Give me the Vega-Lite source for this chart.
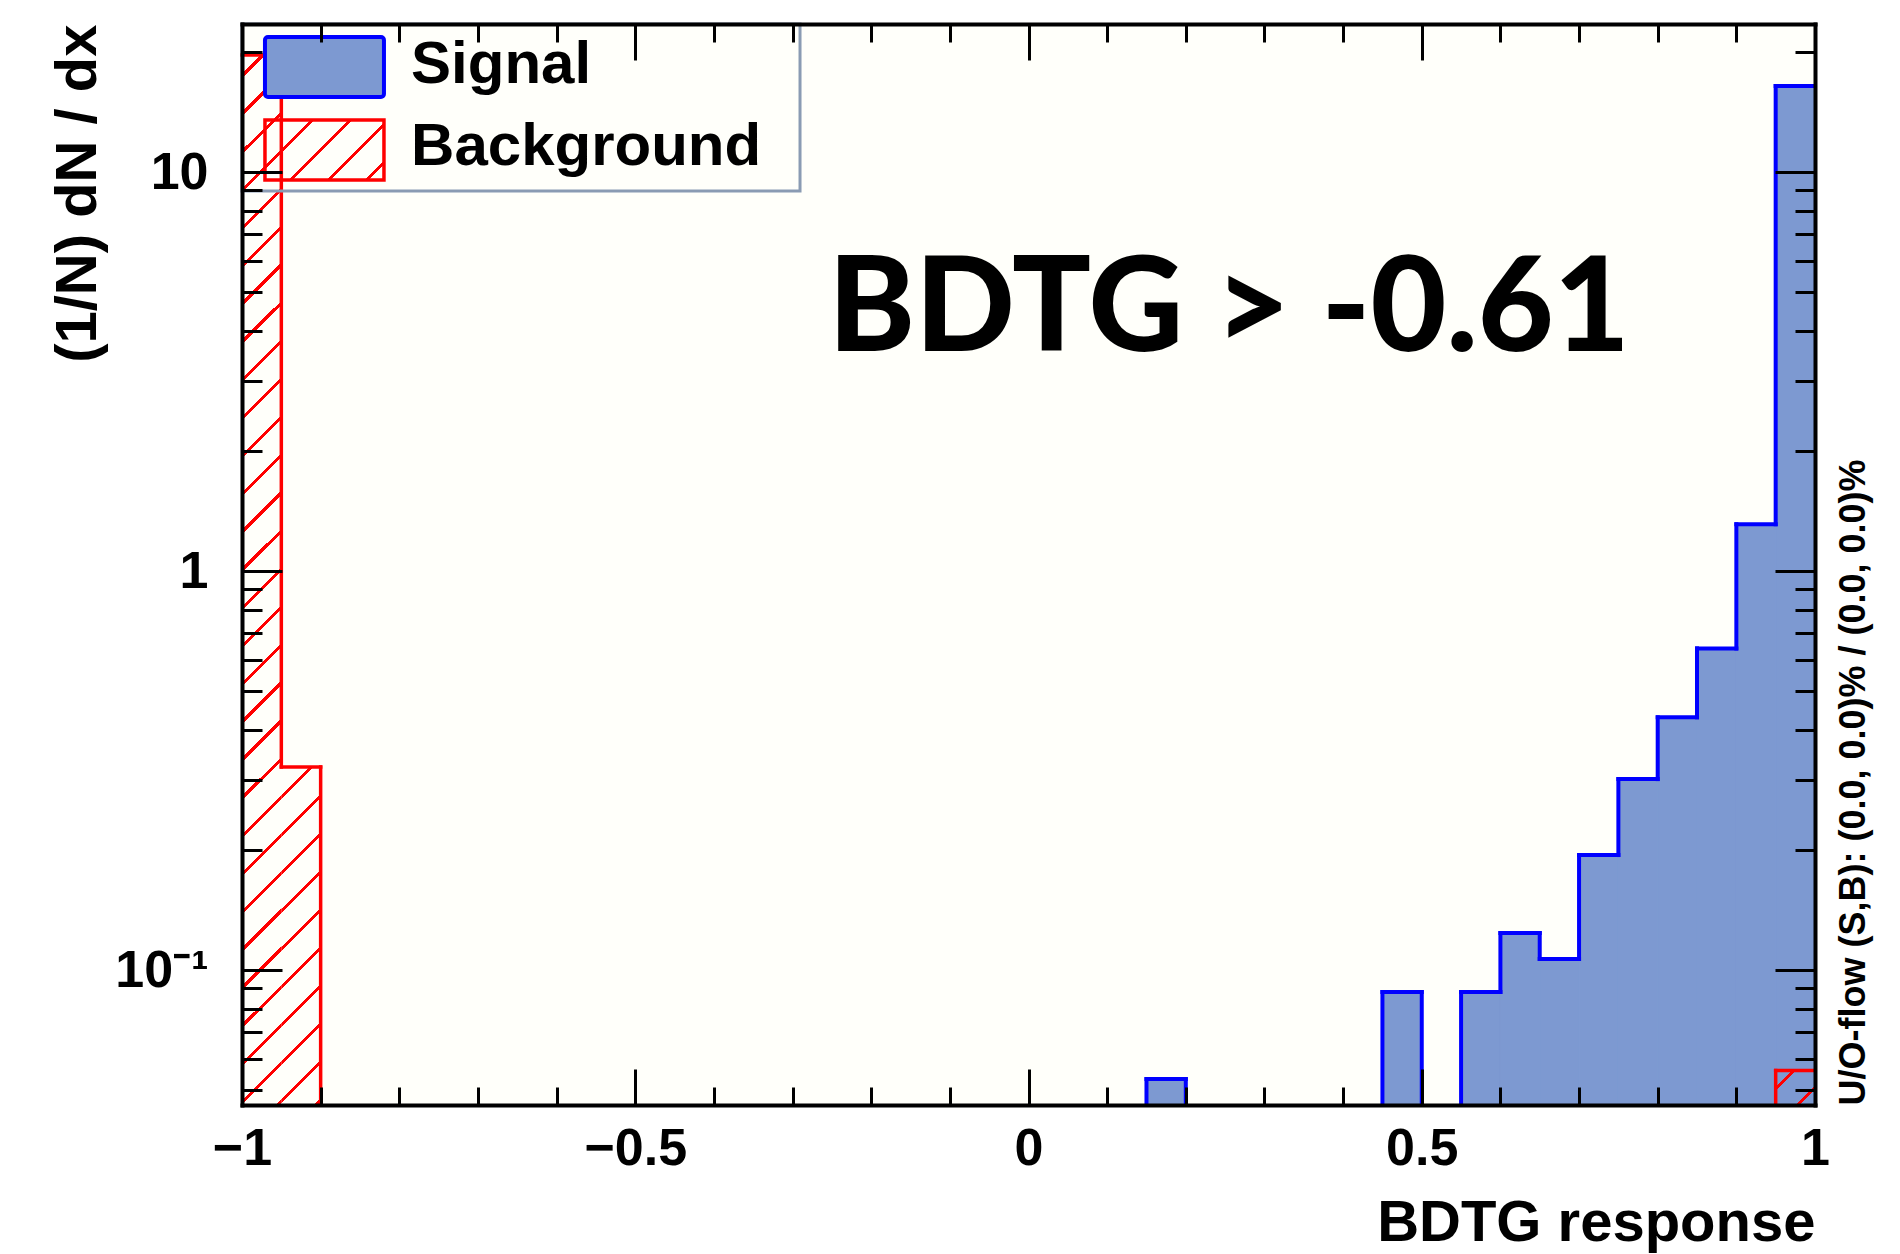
{
"$schema":"https://vega.github.io/schema/vega-lite/v6.json",
"width":1573,"height":1081,
"autosize":{"type":"none"},
"padding":{"left":242,"top":24,"right":85,"bottom":149},
"background":"#ffffff",
"config":{"view":{"stroke":null,"fill":"#fffffa"},"axis":{"grid":false},"scale":{"continuousPadding":0}},
"datasets":{"bins":[
{"lo":-1,"hi":-0.95,"sig":0,"bkg":19.65},
{"lo":-0.95,"hi":-0.9,"sig":0,"bkg":0.323},
{"lo":-0.9,"hi":-0.85,"sig":0,"bkg":0},
{"lo":-0.85,"hi":-0.8,"sig":0,"bkg":0},
{"lo":-0.8,"hi":-0.75,"sig":0,"bkg":0},
{"lo":-0.75,"hi":-0.7,"sig":0,"bkg":0},
{"lo":-0.7,"hi":-0.65,"sig":0,"bkg":0},
{"lo":-0.65,"hi":-0.6,"sig":0,"bkg":0},
{"lo":-0.6,"hi":-0.55,"sig":0,"bkg":0},
{"lo":-0.55,"hi":-0.5,"sig":0,"bkg":0},
{"lo":-0.5,"hi":-0.45,"sig":0,"bkg":0},
{"lo":-0.45,"hi":-0.4,"sig":0,"bkg":0},
{"lo":-0.4,"hi":-0.35,"sig":0,"bkg":0},
{"lo":-0.35,"hi":-0.3,"sig":0,"bkg":0},
{"lo":-0.3,"hi":-0.25,"sig":0,"bkg":0},
{"lo":-0.25,"hi":-0.2,"sig":0,"bkg":0},
{"lo":-0.2,"hi":-0.15,"sig":0,"bkg":0},
{"lo":-0.15,"hi":-0.1,"sig":0,"bkg":0},
{"lo":-0.1,"hi":-0.05,"sig":0,"bkg":0},
{"lo":-0.05,"hi":0,"sig":0,"bkg":0},
{"lo":0,"hi":0.05,"sig":0,"bkg":0},
{"lo":0.05,"hi":0.1,"sig":0,"bkg":0},
{"lo":0.1,"hi":0.15,"sig":0,"bkg":0},
{"lo":0.15,"hi":0.2,"sig":0.0533,"bkg":0},
{"lo":0.2,"hi":0.25,"sig":0,"bkg":0},
{"lo":0.25,"hi":0.3,"sig":0,"bkg":0},
{"lo":0.3,"hi":0.35,"sig":0,"bkg":0},
{"lo":0.35,"hi":0.4,"sig":0,"bkg":0},
{"lo":0.4,"hi":0.45,"sig":0,"bkg":0},
{"lo":0.45,"hi":0.5,"sig":0.0881,"bkg":0},
{"lo":0.5,"hi":0.55,"sig":0,"bkg":0},
{"lo":0.55,"hi":0.6,"sig":0.0881,"bkg":0},
{"lo":0.6,"hi":0.65,"sig":0.1238,"bkg":0},
{"lo":0.65,"hi":0.7,"sig":0.1066,"bkg":0},
{"lo":0.7,"hi":0.75,"sig":0.1942,"bkg":0},
{"lo":0.75,"hi":0.8,"sig":0.301,"bkg":0},
{"lo":0.8,"hi":0.85,"sig":0.43,"bkg":0},
{"lo":0.85,"hi":0.9,"sig":0.64,"bkg":0},
{"lo":0.9,"hi":0.95,"sig":1.31,"bkg":0},
{"lo":0.95,"hi":1,"sig":16.43,"bkg":0.056}
]},
"data":{"name":"bins"},
"resolve":{"axis":{"x":"independent","y":"independent"}},
"layer":[
{
"transform":[{"filter":"datum.sig > 0"}],
"mark":{"type":"bar","orient":"vertical","fill":"#7d99d1","stroke":"#7d99d1","strokeWidth":1},
"encoding":{
"x":{"field":"lo","type":"quantitative","scale":{"type":"linear","domain":[-1,1],"nice":false,"zero":false,"padding":0},
"axis":{"orient":"bottom","grid":false,"zindex":1,
"values":[-1,-0.9,-0.8,-0.7,-0.6,-0.5,-0.4,-0.3,-0.2,-0.1,0,0.1,0.2,0.3,0.4,0.5,0.6,0.7,0.8,0.9,1],
"domain":true,"domainColor":"#000000","domainWidth":4,"domainCap":"square",
"ticks":true,"tickColor":"#000000","tickWidth":3,
"tickSize":{"condition":{"test":"indexof([-1,-0.5,0,0.5,1], datum.value) >= 0","value":-36},"value":-18},
"labelExpr":"indexof([-1,-0.5,0,0.5,1], datum.value) >= 0 ? format(datum.value, '~g') : ''",
"labelFont":"Liberation Sans","labelFontWeight":"bold","labelFontSize":52,"labelColor":"#000000",
"labelPadding":54,"labelFlush":false,"labelOverlap":false,"labelBound":false,
"title":"BDTG response","titleFont":"Liberation Sans","titleFontWeight":"bold","titleFontSize":58,"titleColor":"#000000",
"titleAlign":"right","titleAnchor":"end","titleX":1573,"titleY":135,"titleBaseline":"alphabetic"}},
"x2":{"field":"hi"},
"y":{"field":"sig","type":"quantitative","stack":null,"scale":{"type":"log","domain":[0.0459,23.5],"nice":false,"clamp":true},
"axis":{"orient":"left","grid":false,"zindex":1,
"values":[0.05,0.06,0.07,0.08,0.09,0.1,0.2,0.3,0.4,0.5,0.6,0.7,0.8,0.9,1,2,3,4,5,6,7,8,9,10,20],
"domain":true,"domainColor":"#000000","domainWidth":4,"domainCap":"square",
"ticks":true,"tickColor":"#000000","tickWidth":3,
"tickSize":{"condition":{"test":"indexof([0.1,1,10], datum.value) >= 0","value":-40},"value":-20},
"labelExpr":"datum.value == 0.1 ? '10⁻¹' : datum.value == 1 ? '1' : datum.value == 10 ? '10' : ''",
"labelFont":"Liberation Sans","labelFontWeight":"bold","labelFontSize":52,"labelColor":"#000000",
"labelPadding":74,"labelFlush":false,"labelOverlap":false,"labelBound":false,
"title":"(1/N) dN / dx","titleFont":"Liberation Sans","titleFontWeight":"bold","titleFontSize":58,"titleColor":"#000000",
"titleAngle":270,"titleAlign":"right","titleBaseline":"middle","titleX":-164,"titleY":0}},
"y2":{"datum":0.0459}
}
},
{
"transform":[{"filter":"datum.lo == -1"}],
"mark":{"type":"bar","orient":"vertical","stroke":null,"fill":{"gradient":"linear","x1":0,"y1":0,"x2":0.03923,"y2":1.04806,"stops":[
{"offset":0.0172,"color":"rgba(255,0,0,0)"},{"offset":0.0172,"color":"#ff0000"},{"offset":0.0211,"color":"#ff0000"},{"offset":0.0211,"color":"rgba(255,0,0,0)"},
{"offset":0.0517,"color":"rgba(255,0,0,0)"},{"offset":0.0517,"color":"#ff0000"},{"offset":0.0556,"color":"#ff0000"},{"offset":0.0556,"color":"rgba(255,0,0,0)"},
{"offset":0.0862,"color":"rgba(255,0,0,0)"},{"offset":0.0862,"color":"#ff0000"},{"offset":0.0901,"color":"#ff0000"},{"offset":0.0901,"color":"rgba(255,0,0,0)"},
{"offset":0.1207,"color":"rgba(255,0,0,0)"},{"offset":0.1207,"color":"#ff0000"},{"offset":0.1246,"color":"#ff0000"},{"offset":0.1246,"color":"rgba(255,0,0,0)"},
{"offset":0.1552,"color":"rgba(255,0,0,0)"},{"offset":0.1552,"color":"#ff0000"},{"offset":0.1591,"color":"#ff0000"},{"offset":0.1591,"color":"rgba(255,0,0,0)"},
{"offset":0.1897,"color":"rgba(255,0,0,0)"},{"offset":0.1897,"color":"#ff0000"},{"offset":0.1936,"color":"#ff0000"},{"offset":0.1936,"color":"rgba(255,0,0,0)"},
{"offset":0.2241,"color":"rgba(255,0,0,0)"},{"offset":0.2241,"color":"#ff0000"},{"offset":0.2280,"color":"#ff0000"},{"offset":0.2280,"color":"rgba(255,0,0,0)"},
{"offset":0.2586,"color":"rgba(255,0,0,0)"},{"offset":0.2586,"color":"#ff0000"},{"offset":0.2625,"color":"#ff0000"},{"offset":0.2625,"color":"rgba(255,0,0,0)"},
{"offset":0.2931,"color":"rgba(255,0,0,0)"},{"offset":0.2931,"color":"#ff0000"},{"offset":0.2970,"color":"#ff0000"},{"offset":0.2970,"color":"rgba(255,0,0,0)"},
{"offset":0.3276,"color":"rgba(255,0,0,0)"},{"offset":0.3276,"color":"#ff0000"},{"offset":0.3315,"color":"#ff0000"},{"offset":0.3315,"color":"rgba(255,0,0,0)"},
{"offset":0.3621,"color":"rgba(255,0,0,0)"},{"offset":0.3621,"color":"#ff0000"},{"offset":0.3660,"color":"#ff0000"},{"offset":0.3660,"color":"rgba(255,0,0,0)"},
{"offset":0.3966,"color":"rgba(255,0,0,0)"},{"offset":0.3966,"color":"#ff0000"},{"offset":0.4005,"color":"#ff0000"},{"offset":0.4005,"color":"rgba(255,0,0,0)"},
{"offset":0.4310,"color":"rgba(255,0,0,0)"},{"offset":0.4310,"color":"#ff0000"},{"offset":0.4349,"color":"#ff0000"},{"offset":0.4349,"color":"rgba(255,0,0,0)"},
{"offset":0.4655,"color":"rgba(255,0,0,0)"},{"offset":0.4655,"color":"#ff0000"},{"offset":0.4694,"color":"#ff0000"},{"offset":0.4694,"color":"rgba(255,0,0,0)"},
{"offset":0.5000,"color":"rgba(255,0,0,0)"},{"offset":0.5000,"color":"#ff0000"},{"offset":0.5039,"color":"#ff0000"},{"offset":0.5039,"color":"rgba(255,0,0,0)"},
{"offset":0.5345,"color":"rgba(255,0,0,0)"},{"offset":0.5345,"color":"#ff0000"},{"offset":0.5384,"color":"#ff0000"},{"offset":0.5384,"color":"rgba(255,0,0,0)"},
{"offset":0.5690,"color":"rgba(255,0,0,0)"},{"offset":0.5690,"color":"#ff0000"},{"offset":0.5729,"color":"#ff0000"},{"offset":0.5729,"color":"rgba(255,0,0,0)"},
{"offset":0.6034,"color":"rgba(255,0,0,0)"},{"offset":0.6034,"color":"#ff0000"},{"offset":0.6073,"color":"#ff0000"},{"offset":0.6073,"color":"rgba(255,0,0,0)"},
{"offset":0.6379,"color":"rgba(255,0,0,0)"},{"offset":0.6379,"color":"#ff0000"},{"offset":0.6418,"color":"#ff0000"},{"offset":0.6418,"color":"rgba(255,0,0,0)"},
{"offset":0.6724,"color":"rgba(255,0,0,0)"},{"offset":0.6724,"color":"#ff0000"},{"offset":0.6763,"color":"#ff0000"},{"offset":0.6763,"color":"rgba(255,0,0,0)"},
{"offset":0.7069,"color":"rgba(255,0,0,0)"},{"offset":0.7069,"color":"#ff0000"},{"offset":0.7108,"color":"#ff0000"},{"offset":0.7108,"color":"rgba(255,0,0,0)"},
{"offset":0.7414,"color":"rgba(255,0,0,0)"},{"offset":0.7414,"color":"#ff0000"},{"offset":0.7453,"color":"#ff0000"},{"offset":0.7453,"color":"rgba(255,0,0,0)"},
{"offset":0.7759,"color":"rgba(255,0,0,0)"},{"offset":0.7759,"color":"#ff0000"},{"offset":0.7798,"color":"#ff0000"},{"offset":0.7798,"color":"rgba(255,0,0,0)"},
{"offset":0.8103,"color":"rgba(255,0,0,0)"},{"offset":0.8103,"color":"#ff0000"},{"offset":0.8142,"color":"#ff0000"},{"offset":0.8142,"color":"rgba(255,0,0,0)"},
{"offset":0.8448,"color":"rgba(255,0,0,0)"},{"offset":0.8448,"color":"#ff0000"},{"offset":0.8487,"color":"#ff0000"},{"offset":0.8487,"color":"rgba(255,0,0,0)"},
{"offset":0.8793,"color":"rgba(255,0,0,0)"},{"offset":0.8793,"color":"#ff0000"},{"offset":0.8832,"color":"#ff0000"},{"offset":0.8832,"color":"rgba(255,0,0,0)"},
{"offset":0.9138,"color":"rgba(255,0,0,0)"},{"offset":0.9138,"color":"#ff0000"},{"offset":0.9177,"color":"#ff0000"},{"offset":0.9177,"color":"rgba(255,0,0,0)"},
{"offset":0.9483,"color":"rgba(255,0,0,0)"},{"offset":0.9483,"color":"#ff0000"},{"offset":0.9522,"color":"#ff0000"},{"offset":0.9522,"color":"rgba(255,0,0,0)"},
{"offset":0.9828,"color":"rgba(255,0,0,0)"},{"offset":0.9828,"color":"#ff0000"},{"offset":0.9867,"color":"#ff0000"},{"offset":0.9867,"color":"rgba(255,0,0,0)"}
]}},
"encoding":{
"x":{"field":"lo","type":"quantitative","scale":{"type":"linear","domain":[-1,1],"nice":false,"zero":false,"padding":0},
"axis":{"orient":"top","grid":false,"zindex":1,
"values":[-1,-0.9,-0.8,-0.7,-0.6,-0.5,-0.4,-0.3,-0.2,-0.1,0,0.1,0.2,0.3,0.4,0.5,0.6,0.7,0.8,0.9,1],
"domain":true,"domainColor":"#000000","domainWidth":4,"domainCap":"square",
"ticks":true,"tickColor":"#000000","tickWidth":3,
"tickSize":{"condition":{"test":"indexof([-1,-0.5,0,0.5,1], datum.value) >= 0","value":-36},"value":-18},
"labels":false,"title":null}},
"x2":{"field":"hi"},
"y":{"field":"bkg","type":"quantitative","stack":null,"scale":{"type":"log","domain":[0.0459,23.5],"nice":false,"clamp":true},
"axis":{"orient":"right","grid":false,"zindex":1,
"values":[0.05,0.06,0.07,0.08,0.09,0.1,0.2,0.3,0.4,0.5,0.6,0.7,0.8,0.9,1,2,3,4,5,6,7,8,9,10,20],
"domain":true,"domainColor":"#000000","domainWidth":4,"domainCap":"square",
"ticks":true,"tickColor":"#000000","tickWidth":3,
"tickSize":{"condition":{"test":"indexof([0.1,1,10], datum.value) >= 0","value":-40},"value":-20},
"labels":false,
"title":"U/O-flow (S,B): (0.0, 0.0)% / (0.0, 0.0)%","titleFont":"Liberation Sans","titleFontWeight":"bold","titleFontSize":36,"titleColor":"#000000",
"titleAngle":270,"titleAlign":"left","titleBaseline":"middle","titleX":38,"titleY":1081}},
"y2":{"datum":0.0459}
}
},
{
"transform":[{"filter":"datum.lo == -0.95"}],
"mark":{"type":"bar","orient":"vertical","stroke":null,"fill":{"gradient":"linear","x1":0,"y1":0,"x2":0.1289,"y2":1.1089,"stops":[
{"offset":0.0732,"color":"rgba(255,0,0,0)"},{"offset":0.0732,"color":"#ff0000"},{"offset":0.0844,"color":"#ff0000"},{"offset":0.0844,"color":"rgba(255,0,0,0)"},
{"offset":0.1732,"color":"rgba(255,0,0,0)"},{"offset":0.1732,"color":"#ff0000"},{"offset":0.1844,"color":"#ff0000"},{"offset":0.1844,"color":"rgba(255,0,0,0)"},
{"offset":0.2732,"color":"rgba(255,0,0,0)"},{"offset":0.2732,"color":"#ff0000"},{"offset":0.2844,"color":"#ff0000"},{"offset":0.2844,"color":"rgba(255,0,0,0)"},
{"offset":0.3732,"color":"rgba(255,0,0,0)"},{"offset":0.3732,"color":"#ff0000"},{"offset":0.3844,"color":"#ff0000"},{"offset":0.3844,"color":"rgba(255,0,0,0)"},
{"offset":0.4732,"color":"rgba(255,0,0,0)"},{"offset":0.4732,"color":"#ff0000"},{"offset":0.4844,"color":"#ff0000"},{"offset":0.4844,"color":"rgba(255,0,0,0)"},
{"offset":0.5732,"color":"rgba(255,0,0,0)"},{"offset":0.5732,"color":"#ff0000"},{"offset":0.5844,"color":"#ff0000"},{"offset":0.5844,"color":"rgba(255,0,0,0)"},
{"offset":0.6732,"color":"rgba(255,0,0,0)"},{"offset":0.6732,"color":"#ff0000"},{"offset":0.6844,"color":"#ff0000"},{"offset":0.6844,"color":"rgba(255,0,0,0)"},
{"offset":0.7732,"color":"rgba(255,0,0,0)"},{"offset":0.7732,"color":"#ff0000"},{"offset":0.7844,"color":"#ff0000"},{"offset":0.7844,"color":"rgba(255,0,0,0)"},
{"offset":0.8732,"color":"rgba(255,0,0,0)"},{"offset":0.8732,"color":"#ff0000"},{"offset":0.8844,"color":"#ff0000"},{"offset":0.8844,"color":"rgba(255,0,0,0)"},
{"offset":0.9732,"color":"rgba(255,0,0,0)"},{"offset":0.9732,"color":"#ff0000"},{"offset":0.9844,"color":"#ff0000"},{"offset":0.9844,"color":"rgba(255,0,0,0)"}
]}},
"encoding":{
"x":{"field":"lo","type":"quantitative","scale":{"type":"linear","domain":[-1,1],"nice":false,"zero":false,"padding":0},"axis":null},
"x2":{"field":"hi"},
"y":{"field":"bkg","type":"quantitative","stack":null,"scale":{"type":"log","domain":[0.0459,23.5],"nice":false,"clamp":true},"axis":null},
"y2":{"datum":0.0459}
}
},
{
"transform":[{"filter":"datum.lo == 0.95"}],
"mark":{"type":"bar","orient":"vertical","stroke":null,"fill":{"gradient":"linear","x1":0,"y1":0,"x2":1.0922,"y2":0.9588,"stops":[
{"offset":0.217,"color":"rgba(255,0,0,0)"},{"offset":0.217,"color":"#ff0000"},{"offset":0.2728,"color":"#ff0000"},{"offset":0.2728,"color":"rgba(255,0,0,0)"},
{"offset":0.717,"color":"rgba(255,0,0,0)"},{"offset":0.717,"color":"#ff0000"},{"offset":0.7728,"color":"#ff0000"},{"offset":0.7728,"color":"rgba(255,0,0,0)"}
]}},
"encoding":{
"x":{"field":"lo","type":"quantitative","scale":{"type":"linear","domain":[-1,1],"nice":false,"zero":false,"padding":0},"axis":null},
"x2":{"field":"hi"},
"y":{"field":"bkg","type":"quantitative","stack":null,"scale":{"type":"log","domain":[0.0459,23.5],"nice":false,"clamp":true},"axis":null},
"y2":{"datum":0.0459}
}
},
{
"transform":[{"filter":"datum.sig > 0"}],
"mark":{"type":"rule","color":"#0000ff","strokeWidth":4,"strokeCap":"square"},
"encoding":{
"x":{"field":"lo","type":"quantitative","scale":{"type":"linear","domain":[-1,1],"nice":false,"zero":false,"padding":0},"axis":null},
"x2":{"field":"hi"},
"y":{"field":"sig","type":"quantitative","scale":{"type":"log","domain":[0.0459,23.5],"nice":false,"clamp":true},"axis":null}
}
},
{
"transform":[{"window":[{"op":"lag","field":"sig","as":"sigPrev"}],"sort":[{"field":"lo","order":"ascending"}]},{"filter":"datum.sigPrev != null && datum.sigPrev != datum.sig"}],
"mark":{"type":"rule","color":"#0000ff","strokeWidth":4,"strokeCap":"square","invalid":"show"},
"encoding":{
"x":{"field":"lo","type":"quantitative","scale":{"type":"linear","domain":[-1,1],"nice":false,"zero":false,"padding":0},"axis":null},
"y":{"field":"sig","type":"quantitative","scale":{"type":"log","domain":[0.0459,23.5],"nice":false,"clamp":true},"axis":null},
"y2":{"field":"sigPrev"}
}
},
{
"transform":[{"filter":"datum.bkg > 0"}],
"mark":{"type":"rule","color":"#ff0000","strokeWidth":3.5,"strokeCap":"square"},
"encoding":{
"x":{"field":"lo","type":"quantitative","scale":{"type":"linear","domain":[-1,1],"nice":false,"zero":false,"padding":0},"axis":null},
"x2":{"field":"hi"},
"y":{"field":"bkg","type":"quantitative","scale":{"type":"log","domain":[0.0459,23.5],"nice":false,"clamp":true},"axis":null}
}
},
{
"transform":[{"window":[{"op":"lag","field":"bkg","as":"bkgPrev"}],"sort":[{"field":"lo","order":"ascending"}]},{"filter":"datum.bkgPrev != null && datum.bkgPrev != datum.bkg"}],
"mark":{"type":"rule","color":"#ff0000","strokeWidth":3.5,"strokeCap":"square","invalid":"show"},
"encoding":{
"x":{"field":"lo","type":"quantitative","scale":{"type":"linear","domain":[-1,1],"nice":false,"zero":false,"padding":0},"axis":null},
"y":{"field":"bkg","type":"quantitative","scale":{"type":"log","domain":[0.0459,23.5],"nice":false,"clamp":true},"axis":null},
"y2":{"field":"bkgPrev"}
}
},
{
"data":{"values":[{"item":"legend box"}]},
"mark":{"type":"rect","filled":false,"color":"#8a9bb3","strokeWidth":3},
"encoding":{
"x":{"datum":-1,"type":"quantitative","scale":{"type":"linear","domain":[-1,1],"nice":false,"zero":false,"padding":0},"axis":null},
"x2":{"datum":-0.2905},
"y":{"datum":23.5,"type":"quantitative","scale":{"type":"log","domain":[0.0459,23.5],"nice":false,"clamp":true},"axis":null},
"y2":{"datum":8.964}
}
},
{
"data":{"values":[{"item":"Signal"}]},
"mark":{"type":"rect","fill":"#7d99d1","stroke":"#0000ff","strokeWidth":4,"cornerRadius":3},
"encoding":{
"x":{"datum":-0.9708,"type":"quantitative","scale":{"type":"linear","domain":[-1,1],"nice":false,"zero":false,"padding":0},"axis":null},
"x2":{"datum":-0.8195},
"y":{"datum":21.79,"type":"quantitative","scale":{"type":"log","domain":[0.0459,23.5],"nice":false,"clamp":true},"axis":null},
"y2":{"datum":15.42}
}
},
{
"data":{"values":[{"item":"Background"}]},
"mark":{"type":"rect","stroke":"#ff0000","strokeWidth":3.5,"fill":{"gradient":"linear","x1":0,"y1":0,"x2":1.273,"y2":0.6419,"stops":[
{"offset":0.0368,"color":"rgba(255,0,0,0)"},{"offset":0.0368,"color":"#ff0000"},{"offset":0.0591,"color":"#ff0000"},{"offset":0.0591,"color":"rgba(255,0,0,0)"},
{"offset":0.2368,"color":"rgba(255,0,0,0)"},{"offset":0.2368,"color":"#ff0000"},{"offset":0.2591,"color":"#ff0000"},{"offset":0.2591,"color":"rgba(255,0,0,0)"},
{"offset":0.4368,"color":"rgba(255,0,0,0)"},{"offset":0.4368,"color":"#ff0000"},{"offset":0.4591,"color":"#ff0000"},{"offset":0.4591,"color":"rgba(255,0,0,0)"},
{"offset":0.6368,"color":"rgba(255,0,0,0)"},{"offset":0.6368,"color":"#ff0000"},{"offset":0.6591,"color":"#ff0000"},{"offset":0.6591,"color":"rgba(255,0,0,0)"},
{"offset":0.8368,"color":"rgba(255,0,0,0)"},{"offset":0.8368,"color":"#ff0000"},{"offset":0.8591,"color":"#ff0000"},{"offset":0.8591,"color":"rgba(255,0,0,0)"}
]}},
"encoding":{
"x":{"datum":-0.9708,"type":"quantitative","scale":{"type":"linear","domain":[-1,1],"nice":false,"zero":false,"padding":0},"axis":null},
"x2":{"datum":-0.8195},
"y":{"datum":13.5,"type":"quantitative","scale":{"type":"log","domain":[0.0459,23.5],"nice":false,"clamp":true},"axis":null},
"y2":{"datum":9.549}
}
},
{
"data":{"values":[{"label":"Signal"}]},
"mark":{"type":"text","align":"left","baseline":"alphabetic","font":"Liberation Sans","fontWeight":"bold","fontSize":60,"color":"#000000"},
"encoding":{
"text":{"field":"label"},
"x":{"datum":-0.785,"type":"quantitative","scale":{"type":"linear","domain":[-1,1],"nice":false,"zero":false,"padding":0},"axis":null},
"y":{"datum":16.71,"type":"quantitative","scale":{"type":"log","domain":[0.0459,23.5],"nice":false,"clamp":true},"axis":null}
}
},
{
"data":{"values":[{"label":"Background"}]},
"mark":{"type":"text","align":"left","baseline":"alphabetic","font":"Liberation Sans","fontWeight":"bold","fontSize":60,"color":"#000000"},
"encoding":{
"text":{"field":"label"},
"x":{"datum":-0.785,"type":"quantitative","scale":{"type":"linear","domain":[-1,1],"nice":false,"zero":false,"padding":0},"axis":null},
"y":{"datum":10.41,"type":"quantitative","scale":{"type":"log","domain":[0.0459,23.5],"nice":false,"clamp":true},"axis":null}
}
},
{
"data":{"values":[{"label":"BDTG > -0.61"}]},
"mark":{"type":"text","align":"center","baseline":"alphabetic","font":"Lato","fontWeight":900,"fontSize":131,"color":"#000000"},
"encoding":{
"text":{"field":"label"},
"x":{"datum":0.2549,"type":"quantitative","scale":{"type":"linear","domain":[-1,1],"nice":false,"zero":false,"padding":0},"axis":null},
"y":{"datum":3.56,"type":"quantitative","scale":{"type":"log","domain":[0.0459,23.5],"nice":false,"clamp":true},"axis":null}
}
}
]
}
